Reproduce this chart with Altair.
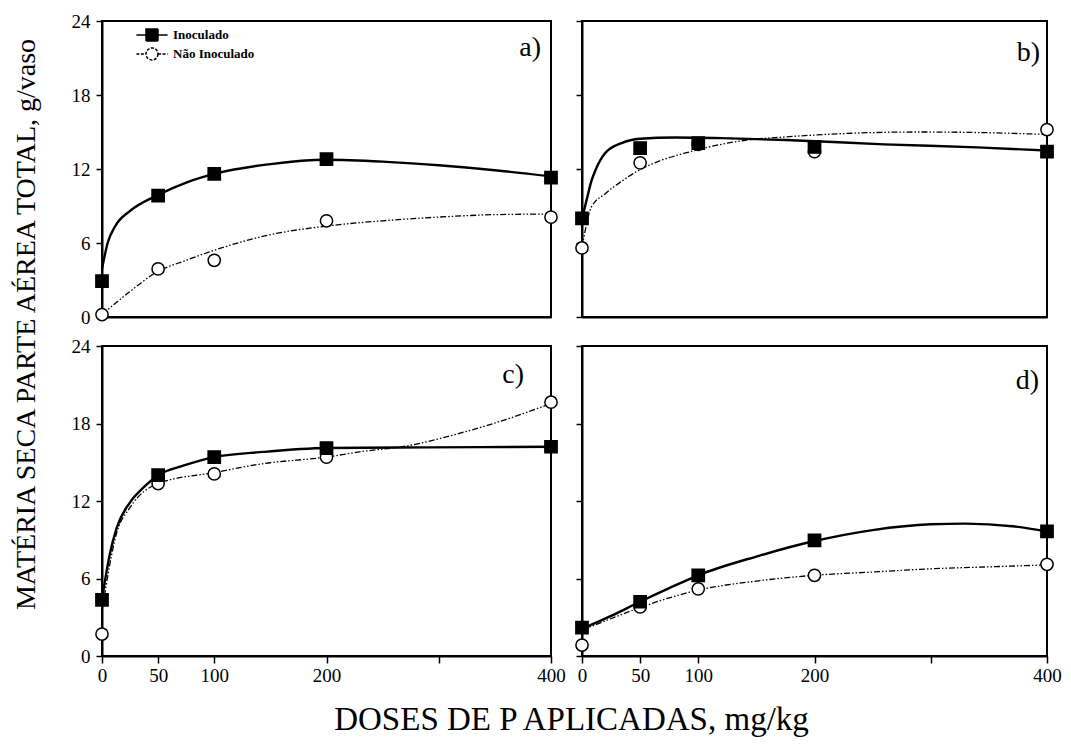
import altair as alt
import pandas as pd

doses = [0, 50, 100, 200, 400]
series = ["Inoculado", "Não Inoculado"]
x_ticks = [0, 50, 100, 200, 300, 400]
y_ticks = [0, 6, 12, 18, 24]

# observed means (g/vaso)
a_inoc = [2.9, 9.85, 11.6, 12.8, 11.3]
a_nao = [0.2, 3.9, 4.6, 7.8, 8.1]
b_inoc = [8.0, 13.7, 14.1, 13.8, 13.4]
b_nao = [5.6, 12.5, 14.0, 13.4, 15.2]
c_inoc = [4.35, 14.0, 15.4, 16.1, 16.2]
c_nao = [1.7, 13.35, 14.1, 15.4, 19.65]
d_inoc = [2.2, 4.2, 6.25, 8.95, 9.65]
d_nao = [0.85, 3.8, 5.2, 6.25, 7.1]

# fitted curves
a_inoc_cx = [0, 5, 12, 25, 50, 75, 100, 150, 200, 250, 300, 350, 400]
a_inoc_cy = [3.9, 6.0, 7.4, 8.6, 9.9, 10.9, 11.6, 12.4, 12.75, 12.6, 12.3, 11.9, 11.4]
a_nao_cx = [0, 24, 48, 75, 98, 146, 198, 250, 300, 350, 400]
a_nao_cy = [0.2, 2.0, 3.6, 4.6, 5.35, 6.6, 7.35, 7.8, 8.1, 8.3, 8.35]

b_inoc_cx = [0, 4, 8, 12, 20, 34, 50, 80, 120, 175, 260, 340, 400]
b_inoc_cy = [8.0, 9.5, 11.0, 12.0, 13.3, 14.1, 14.45, 14.55, 14.5, 14.35, 14.0, 13.75, 13.5]
b_nao_cx = [0, 8, 20, 34, 51, 68, 89, 142, 175, 232, 288, 345, 400]
b_nao_cy = [5.6, 8.9, 10.0, 11.0, 12.0, 12.7, 13.3, 14.35, 14.6, 14.9, 15.0, 14.95, 14.8]

c_inoc_cx = [0, 7, 13, 25, 37, 50, 73, 100, 144, 200, 290, 400]
c_inoc_cy = [4.4, 7.9, 9.9, 11.9, 13.05, 14.0, 14.75, 15.4, 15.8, 16.1, 16.15, 16.2]
c_nao_cx = [0, 13, 25, 50, 100, 144, 200, 229, 274, 319, 363, 400]
c_nao_cy = [3.5, 9.5, 11.5, 13.35, 14.2, 14.9, 15.4, 15.8, 16.3, 17.25, 18.4, 19.55]

d_inoc_cx = [0, 25, 50, 75, 100, 150, 200, 250, 300, 330, 370, 400]
d_inoc_cy = [2.1, 3.1, 4.2, 5.25, 6.25, 7.7, 8.9, 9.75, 10.2, 10.25, 10.05, 9.65]
d_nao_cx = [0, 25, 50, 75, 100, 150, 200, 250, 300, 350, 400]
d_nao_cy = [2.0, 2.9, 3.75, 4.5, 5.1, 5.8, 6.25, 6.5, 6.75, 6.9, 7.05]

FONT = "Liberation Serif"
Y_TITLE = "MATÉRIA SECA PARTE AÉREA TOTAL, g/vaso"
X_TITLE = "DOSES DE P APLICADAS, mg/kg"

# legend symbols: line sample through the marker
LEG_SHAPES = ["M-2.6,0H2.6M-1,-1H1V1H-1Z",
              "M-2.6,0H-1M1,0H2.6M1,0A1,1,0,1,1,-1,0A1,1,0,1,1,1,0Z"]

legend_a = alt.Legend(
    title=None, orient="none", legendX=43, legendY=7,
    symbolSize=144, symbolStrokeWidth=1.5, symbolStrokeColor="black",
    labelOffset=14, rowPadding=1,
    labelFont=FONT, labelFontSize=13, labelFontWeight="bold", labelColor="black",
)


def panel(inoc, nao, icx, icy, ncx, ncy, w, h, top, left, label, ldx, ldy, with_legend=False):
    pts = pd.DataFrame({
        "dose": doses + doses,
        "valor": nao + inoc,
        "serie": [series[1]] * len(doses) + [series[0]] * len(doses),
    })
    ci = pd.DataFrame({"dose": icx, "valor": icy})
    cn = pd.DataFrame({"dose": ncx, "valor": ncy})

    xscale = alt.Scale(domain=[0, 400], nice=False, zero=False)
    yscale = alt.Scale(domain=[0, 24], nice=False)

    if top:
        xaxis = alt.Axis(values=x_ticks, labels=False, ticks=False, title=None)
    else:
        kw = dict(values=x_ticks, labelExpr="datum.value == 300 ? '' : datum.label",
                  tickSize=7, labelPadding=3, labelFlush=False)
        if left:
            xaxis = alt.Axis(title=X_TITLE, titleX=469, titleY=73, titleFontSize=33,
                             titleBaseline="alphabetic", titleAlign="center", **kw)
        else:
            xaxis = alt.Axis(title=None, **kw)

    ykw = dict(values=y_ticks, tickSize=6, labelPadding=6, labelFlush=False)
    if left:
        if top:
            yaxis = alt.Axis(title=Y_TITLE, titleX=-68, titleY=303, titleAngle=270,
                             titleFontSize=28, titleBaseline="alphabetic",
                             titleAlign="center", **ykw)
        else:
            yaxis = alt.Axis(title=None, **ykw)
    else:
        yaxis = alt.Axis(title=None, labels=False, **ykw)

    X = alt.X("dose:Q", scale=xscale, axis=xaxis)
    Y = alt.Y("valor:Q", scale=yscale, axis=yaxis)

    ln_i = alt.Chart(ci).mark_line(color="black", strokeWidth=2.4,
                                   interpolate="monotone").encode(x=X, y=Y)
    ln_n = alt.Chart(cn).mark_line(color="black", strokeWidth=1.3,
                                   strokeDash=[6, 2, 1.5, 2, 1.5, 2],
                                   interpolate="monotone").encode(x=X, y=Y)
    pt = alt.Chart(pts).mark_point(filled=True, stroke="black", strokeWidth=1.5,
                                   size=150, opacity=1).encode(
        x=X, y=Y,
        shape=alt.Shape("serie:N", scale=alt.Scale(domain=series, range=["square", "circle"]),
                        legend=None),
        fill=alt.Fill("serie:N", scale=alt.Scale(domain=series, range=["black", "white"]),
                      legend=None),
        order=alt.Order("serie:N", sort="descending"),
    )
    tag = alt.Chart(pd.DataFrame({"rotulo": [label]})).mark_text(
        align="right", baseline="alphabetic", font=FONT, fontSize=28, color="black"
    ).encode(text="rotulo:N", x=alt.value(w + ldx), y=alt.value(ldy))

    layers = [ln_i, ln_n, pt, tag]
    if with_legend:
        empty = alt.InlineData(values=[])
        leg = alt.Chart(empty).mark_point(filled=True, strokeWidth=1.5, opacity=1).encode(
            x=X, y=Y,
            shape=alt.Shape("leg:N", scale=alt.Scale(domain=series, range=LEG_SHAPES),
                            legend=legend_a),
            fill=alt.Fill("leg:N", scale=alt.Scale(domain=series, range=["black", "white"]),
                          legend=legend_a),
            stroke=alt.Stroke("leg:N", scale=alt.Scale(domain=series, range=["black", "black"]),
                              legend=legend_a),
            strokeDash=alt.StrokeDash("leg:N", scale=alt.Scale(domain=series, range=[[1, 0], [3, 1.5]]),
                                      legend=legend_a),
        )
        layers.append(leg)
    out = alt.layer(*layers)
    if with_legend:
        out = out.resolve_scale(shape="independent", fill="independent",
                                stroke="independent", strokeDash="independent")
    return out.properties(width=w, height=h)


pa = panel(a_inoc, a_nao, a_inoc_cx, a_inoc_cy, a_nao_cx, a_nao_cy, 449, 296, True, True, "a)", -10, 35, True)
pb = panel(b_inoc, b_nao, b_inoc_cx, b_inoc_cy, b_nao_cx, b_nao_cy, 465, 296, True, False, "b)", -7, 40)
pc = panel(c_inoc, c_nao, c_inoc_cx, c_inoc_cy, c_nao_cx, c_nao_cy, 449, 310, False, True, "c)", -27, 37)
pd_ = panel(d_inoc, d_nao, d_inoc_cx, d_inoc_cy, d_nao_cx, d_nao_cy, 465, 310, False, False, "d)", -8, 43)

chart = alt.concat(
    pa, pb, pc, pd_, columns=2, spacing={"row": 29, "column": 31}, bounds="flush"
).resolve_scale(
    shape="independent", fill="independent", stroke="independent", strokeDash="independent"
).resolve_legend(
    shape="independent", fill="independent", stroke="independent", strokeDash="independent"
).configure_view(
    stroke="black", strokeWidth=2
).configure_axis(
    domainColor="black", domainWidth=2, tickColor="black", tickWidth=1.5,
    labelColor="black", labelFont=FONT, labelFontSize=19, grid=False,
    titleColor="black", titleFont=FONT, titleFontWeight="normal"
).properties(
    padding={"left": 2, "top": 3, "right": 0, "bottom": 0}, background="white"
)

chart.save("out.html", embed_options={"renderer": "svg", "actions": False})
